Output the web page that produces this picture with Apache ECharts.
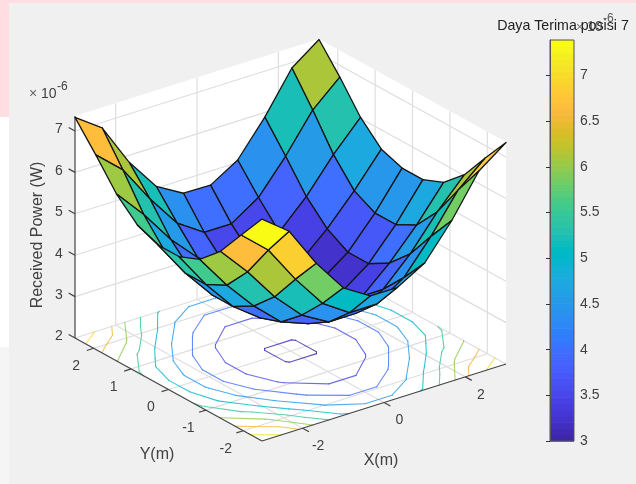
<!DOCTYPE html>
<html>
<head>
<meta charset="utf-8">
<style>html,body{margin:0;padding:0;background:#fff}#c{width:636px;height:484px}</style>
<script src="https://cdn.jsdelivr.net/npm/echarts@6/dist/echarts.min.js"></script>
</head>
<body>
<div id="c"></div>
<script>
// ---------- data ----------
const xNodes = [-3, -2.333, -1.667, -1, -0.333, 0.333, 1, 1.667, 2.333, 3];
const yNodes = [-2.5, -1.944, -1.389, -0.833, -0.278, 0.278, 0.833, 1.389, 1.944, 2.5];
// received power (x 1e-6 W): one row per y node, one column per x node
const power0 = [7.36, 6.86, 5.88, 5.08, 4.68, 4.68, 5.06, 5.88, 6.87, 7.35];
const power1 = [6.70, 6.13, 5.22, 4.43, 4.00, 4.00, 4.43, 5.22, 6.13, 6.70];
const power2 = [6.03, 5.33, 4.52, 3.87, 3.50, 3.50, 3.87, 4.52, 5.33, 6.02];
const power3 = [5.56, 4.73, 4.02, 3.43, 3.18, 3.18, 3.43, 4.02, 4.73, 5.56];
const power4 = [5.35, 4.47, 3.73, 3.25, 2.98, 2.98, 3.25, 3.73, 4.47, 5.35];
const power5 = [5.35, 4.47, 3.73, 3.25, 2.98, 2.98, 3.25, 3.73, 4.47, 5.35];
const power6 = [5.56, 4.73, 4.02, 3.43, 3.18, 3.18, 3.43, 4.02, 4.73, 5.53];
const power7 = [6.03, 5.33, 4.52, 3.87, 3.50, 3.50, 3.87, 4.52, 5.33, 6.02];
const power8 = [6.70, 6.13, 5.22, 4.43, 4.00, 4.00, 4.43, 5.22, 6.13, 6.72];
const power9 = [7.33, 6.87, 5.83, 5.04, 4.67, 4.66, 5.06, 5.89, 6.87, 7.35];
const powerRows = [power0, power1, power2, power3, power4, power5, power6, power7, power8, power9];

const xTicks = [-2, 0, 2];
const yTicks = [-2, -1, 0, 1, 2];
const zTicks = [2, 3, 4, 5, 6, 7];
const contourLevels = [3, 3.5, 4, 4.5, 5, 5.5, 6, 6.5, 7];
const colorTicks = [3, 3.5, 4, 4.5, 5, 5.5, 6, 6.5, 7];
const titleText = 'Daya Terima posisi 7';
const xTitle = 'X(m)', yTitle = 'Y(m)', zTitle = 'Received Power (W)';

// ---------- colour scale (parula) ----------
const parula = [[.2422,.1504,.6603],[.2504,.1650,.7076],[.2578,.1818,.7511],[.2647,.1978,.7952],[.2706,.2147,.8364],[.2751,.2342,.8710],[.2783,.2559,.8991],[.2803,.2782,.9221],[.2813,.3006,.9414],[.2810,.3228,.9579],[.2795,.3447,.9717],[.2760,.3667,.9829],[.2699,.3892,.9906],[.2602,.4123,.9952],[.2440,.4358,.9988],[.2206,.4603,.9973],[.1963,.4847,.9892],[.1834,.5074,.9798],[.1786,.5289,.9682],[.1764,.5499,.9520],[.1687,.5703,.9359],[.1540,.5902,.9218],[.1460,.6091,.9079],[.1380,.6276,.8973],[.1248,.6459,.8883],[.1113,.6635,.8763],[.0952,.6798,.8598],[.0689,.6948,.8394],[.0297,.7082,.8163],[.0036,.7203,.7917],[.0067,.7312,.7660],[.0433,.7411,.7394],[.0964,.7500,.7120],[.1408,.7584,.6842],[.1717,.7670,.6554],[.1938,.7758,.6251],[.2161,.7843,.5923],[.2470,.7918,.5567],[.2906,.7973,.5188],[.3406,.8008,.4789],[.3909,.8029,.4354],[.4456,.8024,.3909],[.5044,.7993,.3480],[.5616,.7942,.3045],[.6174,.7876,.2612],[.6720,.7793,.2227],[.7242,.7698,.1910],[.7738,.7598,.1646],[.8203,.7498,.1535],[.8634,.7406,.1596],[.9035,.7330,.1774],[.9393,.7288,.2100],[.9728,.7298,.2394],[.9956,.7434,.2371],[.9970,.7659,.2199],[.9952,.7893,.2028],[.9892,.8136,.1885],[.9786,.8386,.1766],[.9676,.8639,.1643],[.9610,.8890,.1537],[.9597,.9135,.1423],[.9628,.9373,.1265],[.9691,.9606,.1064],[.9769,.9839,.0805]];
const cMin = 3, cMax = 7.39;
function rgb(c){return 'rgb('+c.map(v=>Math.round(v*255)).join(',')+')';}
function colorOf(v){
  const t = Math.max(0, Math.min(0.9999, (v-cMin)/(cMax-cMin)));
  return rgb(parula[Math.floor(t*parula.length)]);
}

// ---------- view: orthographic projection of the plot box ----------
const box = {x0:-3, x1:3, y0:-2.5, y1:2.5, z0:2, z1:7.36};
const view = {ox:262, oy:441, xu:[40.67,-12.83], yu:[-37.4,-20.6], zu:41.4, depth:[28,44.9,-19]};
function project(x,y,z){
  const a=x-box.x0, b=y-box.y0;
  return [view.ox+a*view.xu[0]+b*view.yu[0], view.oy+a*view.xu[1]+b*view.yu[1]-(z-box.z0)*view.zu];
}
function depthOf(x,y,z){return view.depth[0]*x+view.depth[1]*y+view.depth[2]*z;}

// ---------- derived geometry ----------
const planes = [
  [[box.x0,box.y0,box.z0],[box.x1,box.y0,box.z0],[box.x1,box.y1,box.z0],[box.x0,box.y1,box.z0]],
  [[box.x0,box.y1,box.z0],[box.x1,box.y1,box.z0],[box.x1,box.y1,box.z1],[box.x0,box.y1,box.z1]],
  [[box.x1,box.y0,box.z0],[box.x1,box.y1,box.z0],[box.x1,box.y1,box.z1],[box.x1,box.y0,box.z1]]
];
const gridSegs = [];
xTicks.forEach(x=>{
  gridSegs.push([[x,box.y0,box.z0],[x,box.y1,box.z0]]);
  gridSegs.push([[x,box.y1,box.z0],[x,box.y1,box.z1]]);
});
yTicks.forEach(y=>{
  gridSegs.push([[box.x0,y,box.z0],[box.x1,y,box.z0]]);
  gridSegs.push([[box.x1,y,box.z0],[box.x1,y,box.z1]]);
});
zTicks.forEach(z=>{
  gridSegs.push([[box.x0,box.y1,z],[box.x1,box.y1,z]]);
  gridSegs.push([[box.x1,box.y0,z],[box.x1,box.y1,z]]);
});

const tickLen = 0.17;
const axisSegs = [
  [[box.x0,box.y0,box.z0],[box.x1,box.y0,box.z0]],
  [[box.x0,box.y0,box.z0],[box.x0,box.y1,box.z0]],
  [[box.x0,box.y1,box.z0],[box.x0,box.y1,box.z1]]
];
xTicks.forEach(x=>axisSegs.push([[x,box.y0,box.z0],[x,box.y0-tickLen,box.z0]]));
yTicks.forEach(y=>axisSegs.push([[box.x0,y,box.z0],[box.x0-tickLen,y,box.z0]]));
zTicks.forEach(z=>axisSegs.push([[box.x0,box.y1,z],[box.x0,box.y1+tickLen,z]]));

// contour lines on the floor (marching squares on the table)
const contourSegs = [];
contourLevels.forEach(level=>{
  for(let j=0;j<yNodes.length-1;j++){
    for(let i=0;i<xNodes.length-1;i++){
      const c=[[i,j],[i+1,j],[i+1,j+1],[i,j+1]];
      const hits=[];
      for(let k=0;k<4;k++){
        const p=c[k], q=c[(k+1)%4];
        const a=powerRows[p[1]][p[0]], b=powerRows[q[1]][q[0]];
        if((a<level)!==(b<level)){
          const t=(level-a)/(b-a);
          hits.push([xNodes[p[0]]+t*(xNodes[q[0]]-xNodes[p[0]]), yNodes[p[1]]+t*(yNodes[q[1]]-yNodes[p[1]]), box.z0]);
        }
      }
      if(hits.length===2) contourSegs.push({a:hits[0],b:hits[1],level});
      if(hits.length===4){contourSegs.push({a:hits[0],b:hits[1],level});contourSegs.push({a:hits[2],b:hits[3],level});}
    }
  }
});

// surface faces, far ones first
const faces=[];
for(let j=0;j<yNodes.length-1;j++){
  for(let i=0;i<xNodes.length-1;i++){
    const pts=[[i,j],[i+1,j],[i+1,j+1],[i,j+1]].map(n=>[xNodes[n[0]],yNodes[n[1]],powerRows[n[1]][n[0]]]);
    const d=pts.reduce((s,p)=>s+depthOf(p[0],p[1],p[2]),0)/4;
    faces.push({pts,value:powerRows[j][i],d});
  }
}
faces.sort((a,b)=>b.d-a.d);

const tickText=[];
const FONT='"Liberation Sans", Arial, sans-serif';
xTicks.forEach(v=>{const p=project(v,box.y0,box.z0);tickText.push({t:String(v),x:p[0]+15.5,y:p[1]+18});});
yTicks.forEach(v=>{const p=project(box.x0,v,box.z0);tickText.push({t:String(v),x:p[0]-17.5,y:p[1]+18});});
zTicks.forEach(v=>{const p=project(box.x0,box.y1,v);tickText.push({t:String(v),x:p[0]-16,y:p[1]-1.5});});

// colour bar bands
const bands=parula.map((c,k)=>[cMin+(cMax-cMin)*k/parula.length, cMin+(cMax-cMin)*(k+1)/parula.length, k]);

function idx(list){return list.map((_,i)=>[i,0]);}
function toPx(api,p){const s=project(p[0],p[1],p[2]);return api.coord(s);}
function custom(name,list,render,z){
  return {name,type:'custom',xAxisIndex:0,yAxisIndex:0,coordinateSystem:'cartesian2d',clip:false,silent:true,animation:false,progressive:0,z,
    data:idx(list),renderItem:(params,api)=>render(list[params.dataIndex],api,params.dataIndex)};
}

const chart=echarts.init(document.getElementById('c'),null,{renderer:'canvas',width:636,height:484});
const grey='#404040';
chart.setOption({
  animation:false,
  backgroundColor:'#ffffff',
  grid:[
    {left:0,top:0,width:636,height:484,containLabel:false},
    {left:550,top:40,width:24,height:401,show:true,backgroundColor:'transparent',borderColor:'#555',borderWidth:1,z:5}
  ],
  xAxis:[
    {type:'value',gridIndex:0,min:0,max:636,show:false},
    {type:'value',gridIndex:1,min:0,max:1,show:false}
  ],
  yAxis:[
    {type:'value',gridIndex:0,min:0,max:484,inverse:true,show:false},
    {type:'value',gridIndex:1,min:cMin,max:cMax,position:'right',splitLine:{show:false},
     axisLine:{show:true,lineStyle:{color:'#555',width:1}},
     axisTick:{show:true,inside:true,length:4,lineStyle:{color:'#333'},customValues:colorTicks},
     axisLabel:{show:true,color:grey,fontFamily:'Liberation Sans',fontSize:14,margin:6,customValues:colorTicks,formatter:v=>String(v)},z:6}
  ],
  graphic:{elements:[
    {type:'rect',z:-10,silent:true,shape:{x:0,y:0,width:636,height:117},style:{fill:'#FFDDE1'}},
    {type:'rect',z:-10,silent:true,shape:{x:0,y:347,width:9,height:137},style:{fill:'#F5F5F5'}},
    {type:'rect',z:-9,silent:true,shape:{x:9,y:3,width:627,height:481},style:{fill:'#F0F0F0'}},
    {type:'text',z:20,silent:true,x:29,y:94,style:{text:'×',font:'14px '+FONT,fill:'#666',verticalAlign:'middle'}},
    {type:'text',z:20,silent:true,x:41,y:94,style:{text:'10',font:'14px '+FONT,fill:grey,verticalAlign:'middle'}},
    {type:'text',z:20,silent:true,x:57,y:87,style:{text:'-6',font:'12px '+FONT,fill:grey,verticalAlign:'middle'}},
    {type:'text',z:20,silent:true,x:576,y:27,style:{text:'×',font:'13px '+FONT,fill:'#777',verticalAlign:'middle'}},
    {type:'text',z:20,silent:true,x:587,y:27,style:{text:'10',font:'14px '+FONT,fill:'#555',verticalAlign:'middle'}},
    {type:'text',z:20,silent:true,x:603,y:19,style:{text:'-6',font:'12px '+FONT,fill:'#555',verticalAlign:'middle'}},
    {type:'text',z:21,silent:true,x:563,y:26,style:{text:titleText,font:'14.2px '+FONT,fill:'#222',align:'center',verticalAlign:'middle'}},
    {type:'text',z:20,silent:true,x:381,y:461,style:{text:xTitle,font:'16px '+FONT,fill:grey,align:'center',verticalAlign:'middle'}},
    {type:'text',z:20,silent:true,x:157,y:455,style:{text:yTitle,font:'16px '+FONT,fill:grey,align:'center',verticalAlign:'middle'}},
    {type:'text',z:20,silent:true,x:38,y:235,rotation:Math.PI/2,style:{text:zTitle,font:'16px '+FONT,fill:grey,align:'center',verticalAlign:'middle'}}
  ]},
  series:[
    custom('planes',planes,(pl,api)=>({type:'polygon',shape:{points:pl.map(p=>toPx(api,p))},style:{fill:'#ffffff',stroke:'none'}}),1),
    custom('grid',gridSegs,(s,api)=>{const a=toPx(api,s[0]),b=toPx(api,s[1]);
      return {type:'line',shape:{x1:a[0],y1:a[1],x2:b[0],y2:b[1]},style:{stroke:'#DEDEDE',lineWidth:1.2}};},2),
    custom('contours',contourSegs,(s,api)=>{const a=toPx(api,s.a),b=toPx(api,s.b);
      return {type:'line',shape:{x1:a[0],y1:a[1],x2:b[0],y2:b[1]},style:{stroke:colorOf(s.level),lineWidth:1.1,lineCap:'round',opacity:0.8}};},3),
    custom('axes',axisSegs,(s,api)=>{const a=toPx(api,s[0]),b=toPx(api,s[1]);
      return {type:'line',shape:{x1:a[0],y1:a[1],x2:b[0],y2:b[1]},style:{stroke:'#444',lineWidth:1.2}};},4),
    custom('surface',faces,(f,api,i)=>({type:'polygon',z2:i,shape:{points:f.pts.map(p=>toPx(api,p))},
      style:{fill:colorOf(f.value),stroke:'#151515',lineWidth:1.3,lineJoin:'round'}}),5),
    custom('ticks',tickText,(t,api)=>{const p=api.coord([t.x,t.y]);
      return {type:'text',style:{text:t.t,x:p[0],y:p[1],font:'14px '+FONT,fill:grey,align:'center',verticalAlign:'middle'}};},6),
    {name:'colorbar',type:'custom',xAxisIndex:1,yAxisIndex:1,coordinateSystem:'cartesian2d',silent:true,animation:false,progressive:0,z:4,
      data:bands,encode:{x:2,y:[0,1]},
      renderItem:(params,api)=>{
        const lo=api.coord([0,api.value(0)]), hi=api.coord([1,api.value(1)]);
        return {type:'rect',shape:{x:lo[0],y:hi[1],width:hi[0]-lo[0],height:lo[1]-hi[1]+0.6},style:{fill:rgb(parula[api.value(2)]),stroke:'none'}};
      }}
  ]
});
</script>
</body>
</html>
